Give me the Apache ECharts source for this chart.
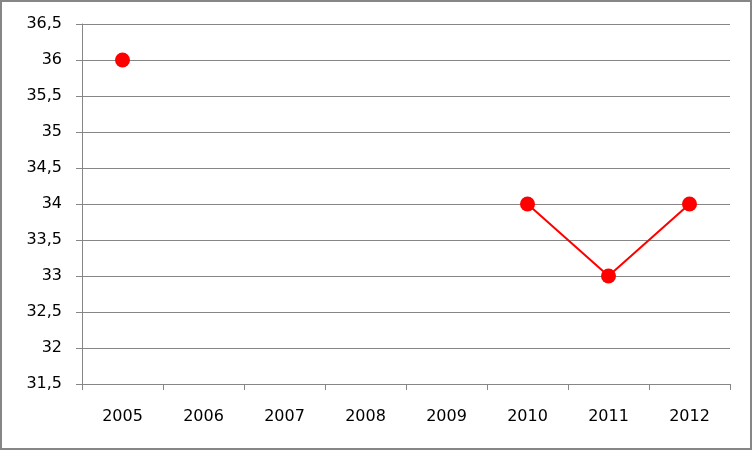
<!DOCTYPE html>
<html>
<head>
<meta charset="utf-8">
<script src="https://cdn.jsdelivr.net/npm/echarts@6/dist/echarts.min.js"></script>
<style>
html,body{margin:0;padding:0;background:#fff;}
#c{width:753px;height:451px;}
</style>
</head>
<body>
<div id="c"></div>
<script>
var categories = ['2005','2006','2007','2008','2009','2010','2011','2012'];
var values = [36, null, null, null, null, 34, 33, 34];
var yMin = 31.5, yMax = 36.5, yStep = 0.5;

var chart = echarts.init(document.getElementById('c'), null, {renderer:'canvas'});
var axisColor = '#868686';
var font = '"DejaVu Sans", sans-serif';
chart.setOption({
  animation: false,
  backgroundColor: '#fff',
  graphic: [{
    type: 'rect', silent: true, z: -1,
    shape: {x: 1, y: 1, width: 750, height: 448},
    style: {fill: 'none', stroke: axisColor, lineWidth: 2}
  }],
  grid: {left: 82, right: 23, top: 24, bottom: 67},
  xAxis: {
    type: 'category',
    data: categories,
    boundaryGap: true,
    axisLine: {show: true, lineStyle: {color: axisColor, width: 1}},
    axisTick: {show: true, length: 6, lineStyle: {color: axisColor}},
    axisLabel: {color: '#000', fontSize: 16, fontFamily: font, margin: 25},
    splitLine: {show: false}
  },
  yAxis: {
    type: 'value',
    min: yMin, max: yMax, interval: yStep,
    axisLine: {show: true, lineStyle: {color: axisColor, width: 1}},
    axisTick: {show: true, length: 6, lineStyle: {color: axisColor}},
    axisLabel: {color: '#000', fontSize: 16, fontFamily: font, margin: 20,
      formatter: function(v){ return String(v).replace('.', ','); }},
    splitLine: {show: true, lineStyle: {color: axisColor, width: 1}}
  },
  series: [{
    type: 'line',
    data: values,
    connectNulls: false,
    symbol: 'circle',
    symbolSize: 15,
    itemStyle: {color: '#ff0000'},
    lineStyle: {color: '#ff0000', width: 2}
  }]
});
</script>
</body>
</html>
